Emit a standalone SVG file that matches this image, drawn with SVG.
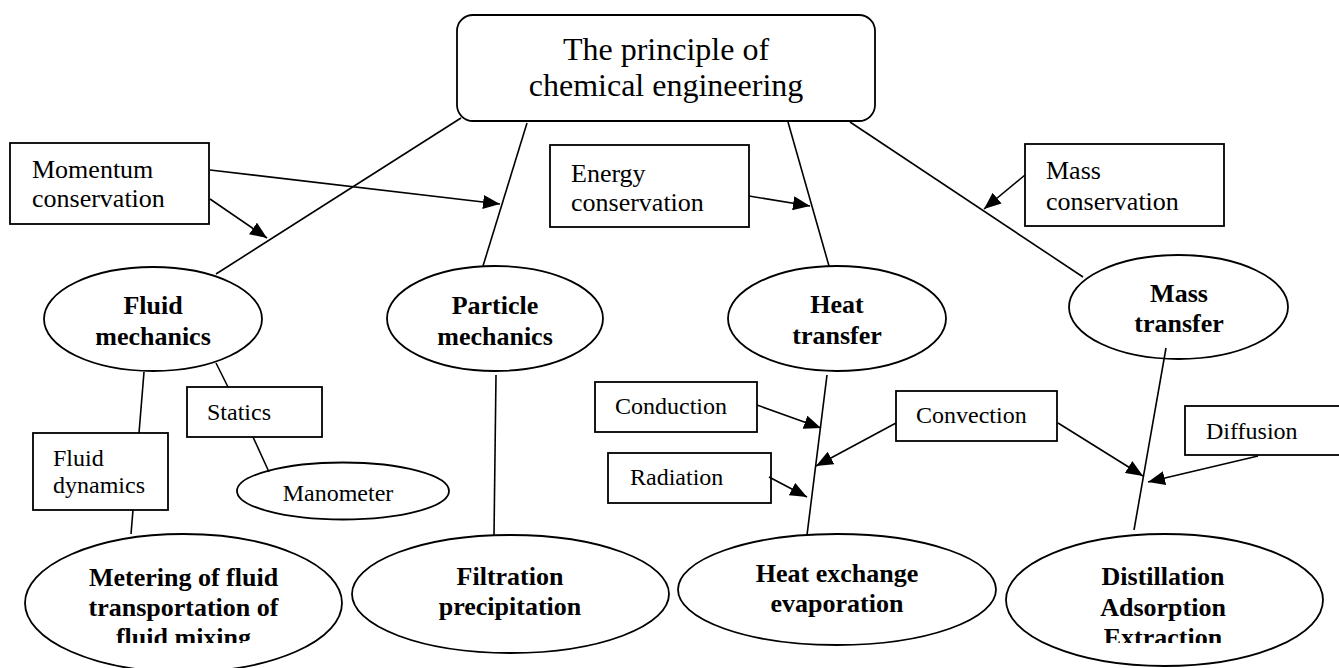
<svg xmlns="http://www.w3.org/2000/svg" width="1339" height="668" viewBox="0 0 1339 668">
<style>
.shape{fill:#fff;stroke:#000;stroke-width:1.8}
.line{fill:none;stroke:#000;stroke-width:1.6}
.arr{fill:none;stroke:#000;stroke-width:1.6;marker-end:url(#ah)}
.t{font-family:"Liberation Serif","Times New Roman",serif;fill:#000}
.big{font-size:32px}
.mid{font-size:26px}
.sm{font-size:24px}
.b{font-family:"Liberation Serif","Times New Roman",serif;font-size:26px;font-weight:bold;fill:#000;text-anchor:middle}
.c{text-anchor:middle}
</style>
<defs>
<marker id="ah" markerUnits="userSpaceOnUse" markerWidth="18" markerHeight="14" refX="17" refY="7" orient="auto">
<path d="M0,0 L17,7 L0,14 Z" fill="#000"/>
</marker>
<clipPath id="clipBottom"><rect x="0" y="0" width="1339" height="643"/></clipPath>
</defs>

<g id="root">
<rect class="shape" x="457" y="15" width="418" height="106" rx="16" ry="16"/>
<text class="t big c" x="666" y="60">The principle of</text>
<text class="t big c" x="666" y="96">chemical engineering</text>
</g>

<g id="momentum">
<rect class="shape" x="10" y="143" width="199" height="81"/>
<text class="t mid" x="32" y="178">Momentum</text>
<text class="t mid" x="32" y="207">conservation</text>
</g>

<g id="energy">
<rect class="shape" x="550" y="145" width="199" height="82"/>
<text class="t mid" x="571" y="182">Energy</text>
<text class="t mid" x="571" y="211">conservation</text>
</g>

<g id="massconservation">
<rect class="shape" x="1025" y="144" width="199" height="82"/>
<text class="t mid" x="1046" y="179">Mass</text>
<text class="t mid" x="1046" y="210">conservation</text>
</g>

<g id="fluidmechanics">
<ellipse class="shape" cx="153" cy="319" rx="109" ry="52"/>
<text class="b" x="153" y="314">Fluid</text>
<text class="b" x="153" y="345">mechanics</text>
</g>

<g id="particlemechanics">
<ellipse class="shape" cx="495" cy="318.5" rx="108" ry="52.5"/>
<text class="b" x="495" y="314">Particle</text>
<text class="b" x="495" y="345">mechanics</text>
</g>

<g id="heattransfer">
<ellipse class="shape" cx="837" cy="318.5" rx="109" ry="52.5"/>
<text class="b" x="837" y="313">Heat</text>
<text class="b" x="837" y="344">transfer</text>
</g>

<g id="masstransfer">
<ellipse class="shape" cx="1178.5" cy="307" rx="109.5" ry="52"/>
<text class="b" x="1179" y="302">Mass</text>
<text class="b" x="1179" y="332">transfer</text>
</g>

<g id="statics">
<rect class="shape" x="187" y="387" width="135" height="50"/>
<text class="t sm" x="207" y="420">Statics</text>
</g>

<g id="fluiddynamics">
<rect class="shape" x="33" y="433" width="135" height="77"/>
<text class="t sm" x="53" y="466">Fluid</text>
<text class="t sm" x="53" y="493">dynamics</text>
</g>

<g id="manometer">
<ellipse class="shape" cx="343" cy="491" rx="106" ry="28.5"/>
<text class="t sm c" x="338" y="501">Manometer</text>
</g>

<g id="conduction">
<rect class="shape" x="595" y="382" width="162" height="50"/>
<text class="t sm" x="615" y="414">Conduction</text>
</g>

<g id="radiation">
<rect class="shape" x="608" y="453" width="163" height="50"/>
<text class="t sm" x="630" y="485">Radiation</text>
</g>

<g id="convection">
<rect class="shape" x="896" y="391" width="161" height="50"/>
<text class="t sm" x="916" y="423">Convection</text>
</g>

<g id="diffusion">
<rect class="shape" x="1185" y="406" width="165" height="49"/>
<text class="t sm" x="1206" y="439">Diffusion</text>
</g>

<g id="metering">
<ellipse class="shape" cx="183.5" cy="603" rx="158.5" ry="69"/>
<g clip-path="url(#clipBottom)">
<text class="b" x="183.5" y="586">Metering of fluid</text>
<text class="b" x="183.5" y="616">transportation of</text>
<text class="b" x="183.5" y="646">fluid mixing</text>
</g>
</g>

<g id="filtration">
<ellipse class="shape" cx="510.5" cy="594" rx="158.5" ry="59"/>
<text class="b" x="510" y="585">Filtration</text>
<text class="b" x="510" y="615">precipitation</text>
</g>

<g id="heatexchange">
<ellipse class="shape" cx="837" cy="589.5" rx="159" ry="55.5"/>
<text class="b" x="837" y="582">Heat exchange</text>
<text class="b" x="837" y="612">evaporation</text>
</g>

<g id="distillation">
<ellipse class="shape" cx="1164.5" cy="600" rx="158.5" ry="66"/>
<g clip-path="url(#clipBottom)">
<text class="b" x="1163" y="585">Distillation</text>
<text class="b" x="1163" y="616">Adsorption</text>
<text class="b" x="1163" y="646">Extraction</text>
</g>
</g>

<g id="connectors">
<line class="line" x1="461" y1="118" x2="216" y2="274"/>
<line class="line" x1="527" y1="123" x2="483" y2="266"/>
<line class="line" x1="788" y1="122" x2="829" y2="266"/>
<line class="line" x1="850" y1="122" x2="1083" y2="277"/>
<line class="line" x1="144" y1="372" x2="139" y2="433"/>
<line class="line" x1="133" y1="510" x2="131" y2="534"/>
<line class="line" x1="216" y1="363" x2="228" y2="387"/>
<line class="line" x1="253" y1="437" x2="269" y2="472"/>
<line class="line" x1="496" y1="375" x2="494" y2="535"/>
<line class="line" x1="827" y1="375" x2="807" y2="535"/>
<line class="line" x1="1166" y1="348" x2="1134" y2="530"/>
<line class="arr" x1="210" y1="170" x2="500" y2="204"/>
<line class="arr" x1="210" y1="199" x2="267" y2="238"/>
<line class="arr" x1="749" y1="196" x2="810" y2="206"/>
<line class="arr" x1="1025" y1="175" x2="984" y2="209"/>
<line class="arr" x1="757" y1="405" x2="821" y2="428"/>
<line class="arr" x1="769" y1="477" x2="807" y2="497"/>
<line class="arr" x1="896" y1="423" x2="816" y2="466"/>
<line class="arr" x1="1058" y1="423" x2="1143" y2="476"/>
<line class="arr" x1="1258" y1="456" x2="1148" y2="482"/>
</g>
</svg>
